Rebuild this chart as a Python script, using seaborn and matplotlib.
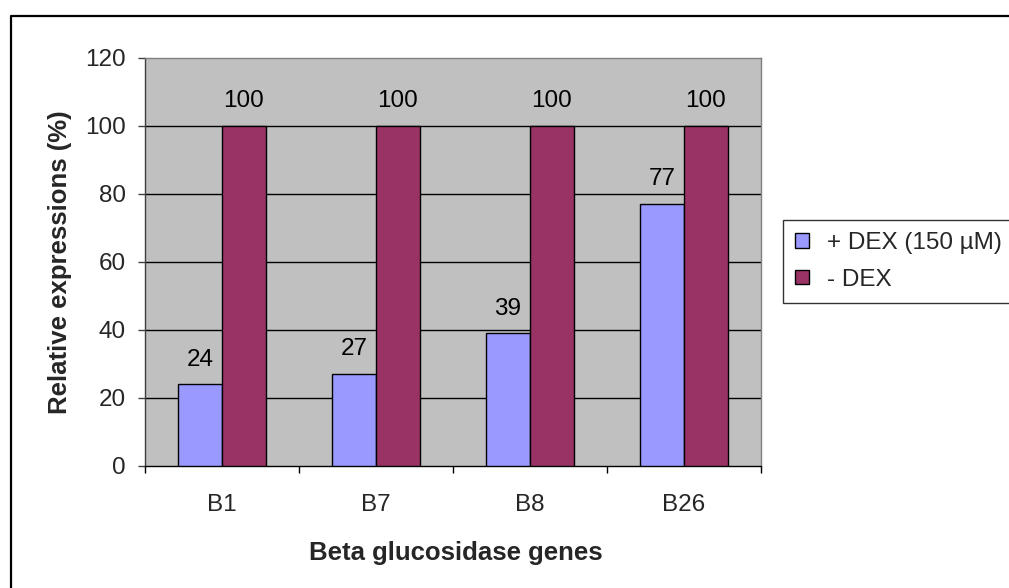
import matplotlib
matplotlib.use("Agg")
import matplotlib.pyplot as plt
from matplotlib.lines import Line2D
from matplotlib.patches import Patch
import seaborn as sns
import pandas as pd
import numpy as np

genes = ["B1", "B7", "B8", "B26"]
plus_dex = [24, 27, 39, 77]
minus_dex = [100, 100, 100, 100]
series_names = ["+ DEX (150 µM)", "- DEX"]
colors = ["#9999FF", "#993366"]
yticks = [0, 20, 40, 60, 80, 100, 120]

df = pd.DataFrame({
    "gene": genes * 2,
    "value": plus_dex + minus_dex,
    "series": [series_names[0]] * 4 + [series_names[1]] * 4,
})

sns.set_theme(style="white")
plt.rcParams["font.family"] = ["Liberation Sans", "DejaVu Sans"]

FS = 17.5
W, H = 1009, 588
fig = plt.figure(figsize=(W / 100, H / 100), dpi=100)
ax = fig.add_axes([145 / W, 1 - 466 / H, (761 - 145) / W, (466 - 58) / H])
ax.set_facecolor("#C0C0C0")

sns.barplot(data=df, x="gene", y="value", hue="series", order=genes,
            hue_order=series_names, palette=colors, width=0.571, gap=0,
            edgecolor="black", linewidth=1.0, saturation=1, ax=ax,
            legend=False, zorder=3)

for cont in ax.containers:
    ax.bar_label(cont, fmt="%d", padding=10, fontsize=FS, color="black")

ax.set_ylim(0, 120)
ax.set_xlim(-0.5, 3.5)
ax.set_yticks(yticks)
ax.set_yticklabels([str(v) for v in yticks], fontsize=FS)
for v in yticks[1:-1]:
    ax.axhline(v, color="black", linewidth=1.0, zorder=1)

ax.set_xticks(range(len(genes)))
ax.set_xticklabels(genes, fontsize=FS)
ax.set_xticks(np.arange(-0.5, 4.0, 1.0), minor=True)
ax.tick_params(axis="x", which="major", length=0, pad=20)
ax.tick_params(axis="x", which="minor", length=5, width=1, color="black", direction="out", bottom=True)
ax.tick_params(axis="y", which="major", length=5, width=1, color="#404040", direction="out", left=True, pad=9)

for s in ["top", "right"]:
    ax.spines[s].set_color("#808080")
    ax.spines[s].set_linewidth(1.0)
ax.spines["left"].set_color("#404040")
ax.spines["left"].set_linewidth(1.0)
ax.spines["bottom"].set_color("black")
ax.spines["bottom"].set_linewidth(1.0)

ax.set_xlabel("Beta glucosidase genes", fontsize=18.5, fontweight="bold")
ax.set_ylabel("Relative expressions (%)", fontsize=18.5, fontweight="bold")
ax.xaxis.set_label_coords(0.505, -0.184)
ax.yaxis.set_label_coords(-0.118, 0.5)

handles = [Patch(facecolor=c, edgecolor="black", linewidth=1.0) for c in colors]
leg = fig.legend(handles, series_names, loc="upper left",
                 bbox_to_anchor=(783 / W, 1 - 220 / H), fontsize=FS,
                 frameon=True, fancybox=False, edgecolor="black",
                 handlelength=0.55, handleheight=0.55, handletextpad=0.75,
                 borderpad=0.5, labelspacing=0.6, borderaxespad=0)
leg.get_frame().set_linewidth(1.0)

# outer chart frame (left and top visible)
fig.add_artist(Line2D([11 / W, 11 / W, 1.0], [0.0, 1 - 16 / H, 1 - 16 / H],
                      transform=fig.transFigure, color="black", linewidth=1.6))

fig.savefig("out.png", dpi=100, facecolor="white")
